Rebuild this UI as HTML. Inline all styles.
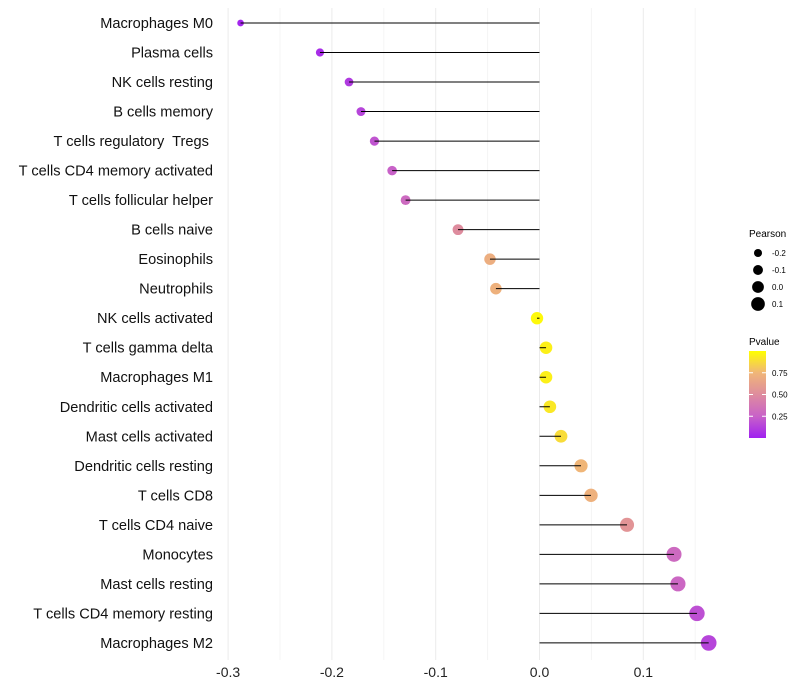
<!DOCTYPE html>
<html><head><meta charset="utf-8"><style>body{margin:0;background:#fff}svg{display:block;font-family:"Liberation Sans",sans-serif}</style></head>
<body>
<svg id="chart" width="800" height="700">
<defs><linearGradient id="pg" x1="0" y1="1" x2="0" y2="0">
<stop offset="0" stop-color="#A020F0"/><stop offset="0.25" stop-color="#C862C8"/><stop offset="0.5" stop-color="#DE8C9E"/><stop offset="0.75" stop-color="#F0B678"/><stop offset="1" stop-color="#FFFF00"/></linearGradient></defs>
<g id="grid"></g>
<g id="marks"></g>
<g id="legend">
<text x="749" y="237" font-size="10">Pearson</text>
<text x="749" y="345" font-size="10">Pvalue</text>
<rect x="749" y="351" width="17" height="87" fill="url(#pg)"/>
</g>
</svg>
<script>
const categories=["Macrophages M0","Plasma cells","NK cells resting","B cells memory","T cells regulatory  Tregs ","T cells CD4 memory activated","T cells follicular helper","B cells naive","Eosinophils","Neutrophils","NK cells activated","T cells gamma delta","Macrophages M1","Dendritic cells activated","Mast cells activated","Dendritic cells resting","T cells CD8","T cells CD4 naive","Monocytes","Mast cells resting","T cells CD4 memory resting","Macrophages M2"];
const pearson=[-0.288,-0.2115,-0.1835,-0.172,-0.159,-0.142,-0.129,-0.0785,-0.0477,-0.042,-0.0024,0.0063,0.0063,0.010,0.0207,0.040,0.0496,0.0843,0.1296,0.1334,0.1517,0.163];
const pvalue=[0.02,0.05,0.1,0.14,0.2,0.25,0.3,0.5,0.7,0.72,0.98,0.95,0.95,0.92,0.88,0.75,0.72,0.55,0.3,0.28,0.18,0.14];
const xTicks=[-0.3,-0.2,-0.1,0.0,0.1];
const sizeLegend=[-0.2,-0.1,0.0,0.1];
const pTicks=[0.25,0.5,0.75];
const NS="http://www.w3.org/2000/svg";
const x=v=>539.5+v*1038;
const y=i=>23+i*29.52;
const r=v=>Math.max(1.5,6.2+10*v);
const stops=[[0,[160,32,240]],[0.25,[200,98,200]],[0.5,[222,140,158]],[0.75,[240,182,120]],[1,[255,255,0]]];
function col(p){for(let k=1;k<stops.length;k++){if(p<=stops[k][0]){const a=stops[k-1],b=stops[k],t=(p-a[0])/(b[0]-a[0]);return "rgb("+a[1].map((c,j)=>Math.round(c+(b[1][j]-c)*t)).join(",")+")";}}return "rgb(255,255,0)";}
function mk(t,at,parent){const e=document.createElementNS(NS,t);for(const k in at)e.setAttribute(k,at[k]);parent.appendChild(e);return e;}
const grid=document.getElementById('grid'),marks=document.getElementById('marks'),legend=document.getElementById('legend');
for(let v=-0.3;v<=0.151;v+=0.05){const g=mk('line',{x1:x(v),x2:x(v),y1:8,y2:660,stroke:Math.abs(Math.round(v*20))%2==0?'#ebebeb':'#f4f4f4','stroke-width':1},grid);

}
xTicks.forEach(v=>{const t=mk('text',{x:x(v),y:677,'font-size':14,'text-anchor':'middle',fill:'#222'},grid);t.textContent=v.toFixed(1);

});
categories.forEach((c,i)=>{const t=mk('text',{x:213,y:y(i)+5,'font-size':14.6,'text-anchor':'end',fill:'#111'},grid);t.textContent=c;
t.setAttribute('xml:space','preserve');
t.style.whiteSpace='pre';


const d=mk('circle',{cx:x(pearson[i]),cy:y(i),r:r(pearson[i]),fill:col(pvalue[i])},marks);


const l=mk('line',{x1:x(0),x2:x(pearson[i]),y1:y(i),y2:y(i),stroke:'#000','stroke-width':1},marks);

});
sizeLegend.forEach((v,k)=>{const cy=253+k*17;const d=mk('circle',{cx:758,cy:cy,r:r(v)*0.95,fill:'#000'},legend);


const t=mk('text',{x:772,y:cy+3,'font-size':8},legend);t.textContent=v.toFixed(1);

});
pTicks.forEach(p=>{const yy=438-p*87;mk('line',{x1:749,x2:753,y1:yy,y2:yy,stroke:'#fff'},legend);mk('line',{x1:762,x2:766,y1:yy,y2:yy,stroke:'#fff'},legend);
const t=mk('text',{x:772,y:yy+3,'font-size':8},legend);t.textContent=p.toFixed(2);

});
</script>
</body></html>
